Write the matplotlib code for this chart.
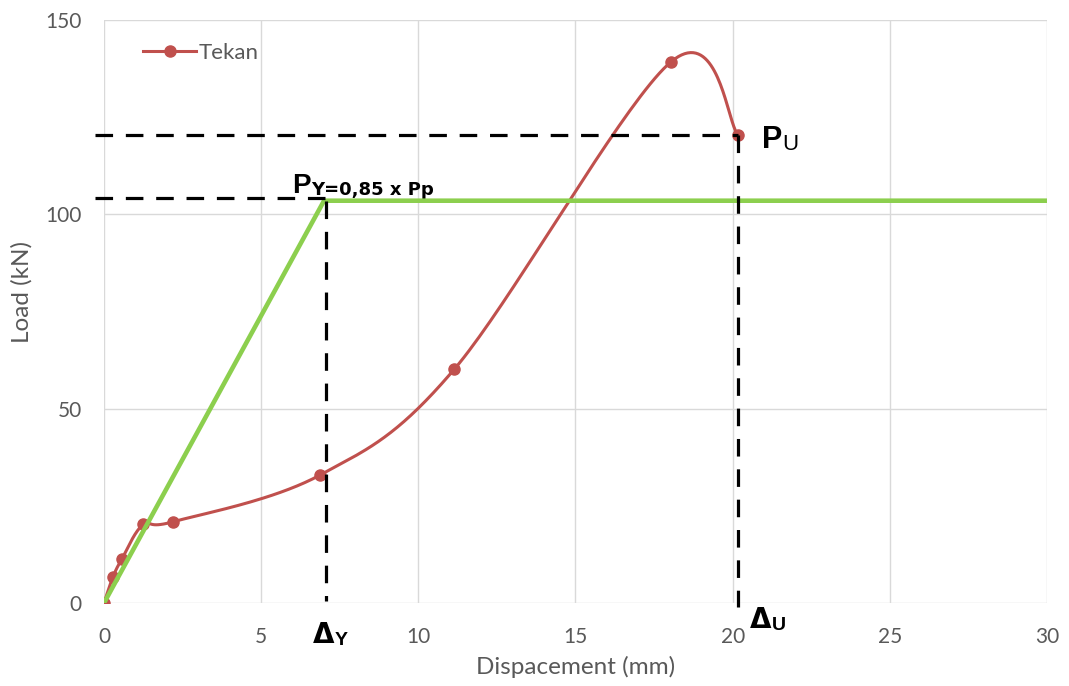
import numpy as np
import matplotlib.pyplot as plt

# measured load-displacement points (Tekan)
disp = [0.0, 0.28, 0.56, 1.25, 2.2, 6.87, 11.15, 18.05, 20.17]
load = [0.0, 6.6, 11.2, 20.2, 20.9, 32.9, 60.2, 139.3, 120.4]

# idealised bilinear curve
bil_x = [0.0, 7.0, 30.0]
bil_y = [0.0, 103.5, 103.5]

# reference lines
py_load = 104.3
pu_load = 120.4
dy_disp = 7.06
du_disp = 20.17

xticks = [0, 5, 10, 15, 20, 25, 30]
yticks = [0, 50, 100, 150]


def catmull_rom(x, y, n=40):
    # Excel-like smoothed line
    px = np.r_[x[0], x, x[-1]]
    py = np.r_[y[0], y, y[-1]]
    xs, ys = [], []
    t = np.linspace(0, 1, n)
    for i in range(1, len(px) - 2):
        p0, p1, p2, p3 = (np.array([px[j], py[j]]) for j in range(i - 1, i + 3))
        m1 = (p2 - p0) / 2
        m2 = (p3 - p1) / 2
        h00 = 2 * t**3 - 3 * t**2 + 1
        h10 = t**3 - 2 * t**2 + t
        h01 = -2 * t**3 + 3 * t**2
        h11 = t**3 - t**2
        seg = (np.outer(h00, p1) + np.outer(h10, m1)
               + np.outer(h01, p2) + np.outer(h11, m2))
        xs.append(seg[:, 0])
        ys.append(seg[:, 1])
    return np.concatenate(xs), np.concatenate(ys)


plt.rcParams['font.family'] = ['Lato', 'DejaVu Sans']
grey = '#595959'
red = '#c0504d'

fig = plt.figure(figsize=(10.69, 6.86), dpi=100)
ax = fig.add_axes([0.0973, 0.121, 0.8821, 0.8499])

sx, sy = catmull_rom(disp, load)
ax.plot(sx, sy, color=red, lw=2.2, zorder=3)
ax.plot(disp, load, 'o', color=red, ms=8, zorder=4)
ax.plot([], [], '-o', color=red, lw=2.2, ms=8, label='Tekan')

ax.plot(bil_x, bil_y, color='#8ccf4e', lw=3.3, zorder=5, solid_capstyle='butt')

dash = dict(color='black', lw=2.3, dashes=(5.5, 4), zorder=6, clip_on=False)
ax.plot([-0.3, du_disp], [pu_load, pu_load], **dash)
ax.plot([-0.3, dy_disp], [py_load, py_load], **dash)
ax.plot([dy_disp, dy_disp], [bil_y[1], 0.5], **dash)
ax.plot([du_disp, du_disp], [pu_load, -1.0], **dash)

# annotation labels
big = dict(fontweight='bold', family='Liberation Sans', color='black')
sub = dict(fontweight='bold', family='DejaVu Sans', color='black')
t1 = ax.text(6.0, 105.4, 'P', fontsize=20, **big)
ax.annotate('Y=0,85 x Pp', xy=(1, 0), xycoords=t1, va='bottom',
            fontsize=13, **sub)
t2 = ax.text(20.93, 117.0, 'P', fontsize=22, **big)
ax.annotate('U', xy=(1, 0), xycoords=t2, va='bottom', fontsize=16,
            fontweight='normal', family='Liberation Sans', color='black')
t3 = ax.text(6.64, -10.2, '\u0394', fontsize=20, **sub)
ax.annotate('Y', xy=(1, 0), xycoords=t3, va='bottom', fontsize=14, **big)
t4 = ax.text(20.55, -6.4, '\u0394', fontsize=20, **sub)
ax.annotate('U', xy=(1, 0), xycoords=t4, va='bottom', fontsize=14, **big)

ax.set_xlim(0, 30)
ax.set_ylim(0, 150)
ax.set_xticks(xticks)
ax.set_yticks(yticks)
ax.grid(True, color='#d9d9d9', lw=1)
ax.set_axisbelow(True)
for s in ax.spines.values():
    s.set_visible(False)
ax.tick_params(length=0, labelsize=15, labelcolor=grey)
ax.tick_params(axis='x', pad=17)
ax.tick_params(axis='y', pad=16)
ax.set_xlabel('Dispacement (mm)', fontsize=17.5, color=grey)
ax.set_ylabel('Load (kN)', fontsize=17.5, color=grey)
ax.xaxis.set_label_coords(0.5, -0.09)
ax.yaxis.set_label_coords(-0.0755, 0.533)

ax.legend(loc='upper left', bbox_to_anchor=(0.02, 0.995), frameon=False,
          fontsize=16, labelcolor=grey, handlelength=2.4, handletextpad=0.1)

fig.savefig('out.png', dpi=100)
